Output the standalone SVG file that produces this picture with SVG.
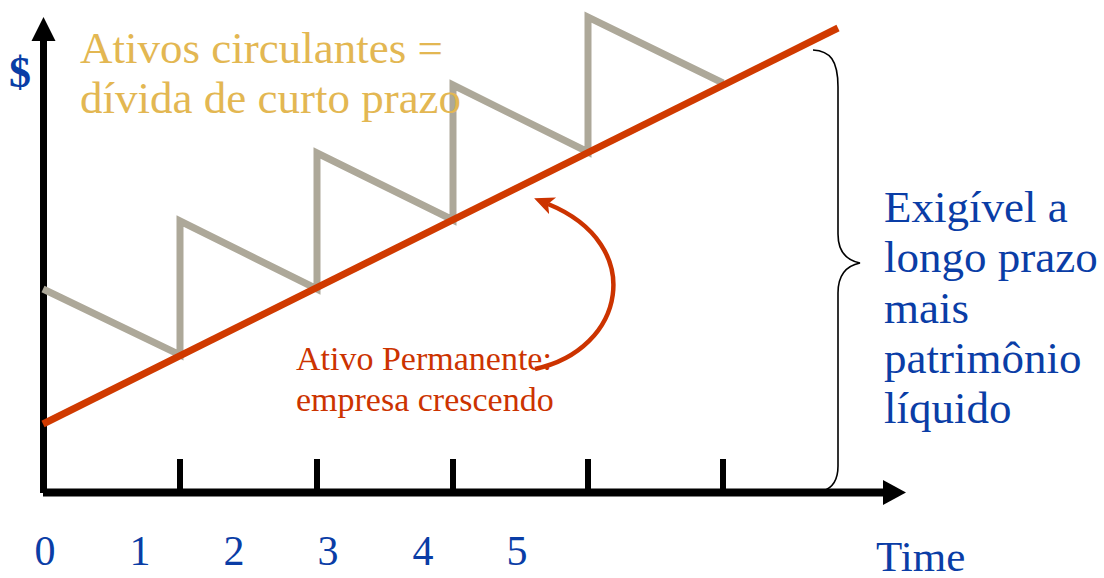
<svg xmlns="http://www.w3.org/2000/svg" width="1104" height="578" viewBox="0 0 1104 578">
  <style>
    text { font-family: 'Liberation Serif', 'DejaVu Serif', serif; }
    .gold { fill: #E3B752; font-size: 45px; }
    .blue { fill: #0A3DA6; }
    .red { fill: #CC3300; font-size: 34px; }
    .axis { stroke: #000; stroke-width: 7; fill: none; }
    .tick { stroke: #000; stroke-width: 6; }
  </style>
  <defs>
    <marker id="redhead" markerUnits="userSpaceOnUse" markerWidth="24" markerHeight="24" refX="5" refY="10" orient="auto">
      <path d="M0,1 L20,10 L0,19 L5,10 Z" fill="#CC3300"/>
    </marker>
  </defs>

  <g id="axes">
    <line class="axis" x1="43.5" y1="493" x2="43.5" y2="38"/>
    <polygon points="43.5,17 31.5,41 55.5,41" fill="#000"/>
    <line class="axis" x1="43" y1="492.5" x2="886" y2="492.5" style="stroke-width:8"/>
    <polygon points="906,492.5 883,480 883,505" fill="#000"/>
    <line class="tick" x1="180" y1="459" x2="180" y2="492"/>
    <line class="tick" x1="317" y1="459" x2="317" y2="492"/>
    <line class="tick" x1="453" y1="459" x2="453" y2="492"/>
    <line class="tick" x1="588" y1="459" x2="588" y2="492"/>
    <line class="tick" x1="723" y1="459" x2="723" y2="492"/>
  </g>

  <g id="current-assets">
    <polyline points="43,289 180,355 180,221 317,289 317,153 453,220 453,85 588,152 588,17 723,83" fill="none" stroke="#ADA899" stroke-width="7" stroke-linejoin="miter"/>
  </g>

  <g id="fixed-assets">
    <line x1="43" y1="424" x2="838" y2="28" stroke="#D03A00" stroke-width="7"/>
  </g>

  <g id="connectors">
    <path d="M 535 369 C 625 350, 648 245, 548 204" fill="none" stroke="#CC3300" stroke-width="4.5" marker-end="url(#redhead)"/>
    <path d="M 813 50 C 830 51, 838 60, 838 87 L 838 234 C 838 250, 845 260, 860 263 C 845 266, 838 276, 838 293 L 838 466 C 838 480, 832 488, 823 491" fill="none" stroke="#000" stroke-width="1.6"/>
  </g>

  <g id="labels">
    <text class="blue" x="9" y="87" style="font-size:44px;font-weight:bold">$</text>
    <text class="gold" x="80" y="63">Ativos circulantes =</text>
    <text class="gold" x="80" y="113">dívida de curto prazo</text>
    <text class="red" x="296" y="370">Ativo Permanente:</text>
    <text class="red" x="296" y="411">empresa crescendo</text>
    <g class="blue" style="font-size:45px">
      <text x="884" y="222">Exigível a</text>
      <text x="884" y="272">longo prazo</text>
      <text x="884" y="323">mais</text>
      <text x="884" y="373">patrimônio</text>
      <text x="884" y="423">líquido</text>
    </g>
    <g class="blue" style="font-size:42px" text-anchor="middle">
      <text x="45" y="565">0</text>
      <text x="140" y="565">1</text>
      <text x="234" y="565">2</text>
      <text x="328" y="565">3</text>
      <text x="423" y="565">4</text>
      <text x="517" y="565">5</text>
    </g>
    <text class="blue" x="876" y="571" style="font-size:43px">Time</text>
  </g>
</svg>
